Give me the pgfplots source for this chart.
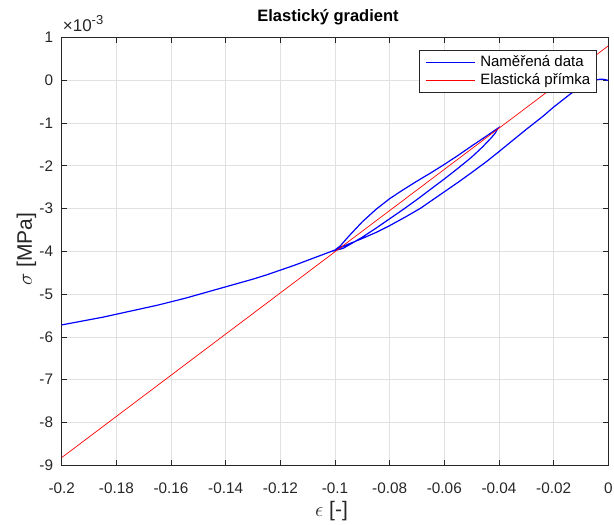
\documentclass[border=0pt]{standalone}
\usepackage{fontspec}
\setmainfont{Liberation Sans}
\usepackage{pgfplots}
\pgfplotsset{compat=1.18}
\definecolor{axc}{RGB}{38,38,38}
\definecolor{gridc}{RGB}{225,225,225}
\begin{document}
\begin{tikzpicture}
\begin{axis}[
  scale only axis,
  width=546.6pt, height=428pt,
  xmin=-0.2, xmax=0, ymin=-9, ymax=1,
  xtick={-0.2,-0.18,-0.16,-0.14,-0.12,-0.1,-0.08,-0.06,-0.04,-0.02,0},
  xticklabels={-0.2,-0.18,-0.16,-0.14,-0.12,-0.1,-0.08,-0.06,-0.04,-0.02,0},
  ytick={-9,-8,-7,-6,-5,-4,-3,-2,-1,0,1},
  yticklabels={-9,-8,-7,-6,-5,-4,-3,-2,-1,0,1},
  tick align=inside, tick pos=both,
  major tick length=5.5pt,
  grid=major,
  major grid style={gridc, line width=0.6pt},
  axis line style={axc, line width=0.7pt},
  every tick/.style={axc, line width=0.7pt},
  tick label style={font=\fontsize{15.3}{18}\selectfont, text=axc, inner sep=0pt},
  xticklabel style={anchor=base, yshift=-27.7pt},
  yticklabel style={anchor=east, xshift=-8.4pt},
  title={\textbf{Elastický gradient}},
  title style={font=\fontsize{16.5}{19}\selectfont, text=black, at={(axis description cs:0.5,1)}, anchor=base, yshift=10pt, xshift=-7pt},
  xlabel={$\epsilon$ [-]},
  ylabel={$\sigma$ [MPa]},
  xlabel style={font=\fontsize{21}{24}\selectfont, text=axc, at={(axis description cs:0.4937,-0.108)}, anchor=center},
  ylabel style={font=\fontsize{21}{24}\selectfont, text=axc, at={(axis description cs:-0.0644,0.5054)}, anchor=center},
  legend style={at={(axis description cs:1,1)}, anchor=north east, xshift=-12pt, yshift=-13pt,
    draw=axc, line width=0.6pt, fill=white, font=\fontsize{15}{18}\selectfont,
    inner xsep=5.7pt, inner ysep=5pt, row sep=3pt, column sep=5.3pt,
    nodes={inner sep=0pt, text height=11pt, text depth=3.5pt}},
  legend cell align=left,
  legend image code/.code={\draw[#1, line width=0.8pt] (0pt,0pt) -- (49pt,0pt);},
]
\addplot[blue, line width=1.2pt] coordinates {
(0.000,-0.01) (-0.001,0.01) (-0.002,0.02) (-0.003,0.02) (-0.004,0.01) (-0.005,-0.01)
(-0.0066,-0.05) (-0.008,-0.09) (-0.010,-0.16) (-0.012,-0.24) (-0.014,-0.33) (-0.016,-0.43)
(-0.018,-0.53) (-0.020,-0.63) (-0.022,-0.74) (-0.024,-0.85) (-0.027,-1.00) (-0.030,-1.15)
(-0.0323,-1.27) (-0.035,-1.41) (-0.0396,-1.65) (-0.0445,-1.90) (-0.050,-2.16) (-0.055,-2.39)
(-0.060,-2.61) (-0.065,-2.83) (-0.0686,-2.99) (-0.074,-3.19) (-0.080,-3.40) (-0.085,-3.56)
(-0.090,-3.70) (-0.095,-3.83) (-0.098,-3.91) (-0.100,-3.98)
(-0.097,-3.93) (-0.094,-3.82) (-0.090,-3.67) (-0.085,-3.46) (-0.080,-3.24) (-0.075,-3.02)
(-0.070,-2.79) (-0.065,-2.55) (-0.060,-2.31) (-0.055,-2.06) (-0.050,-1.80) (-0.046,-1.56)
(-0.043,-1.36) (-0.0415,-1.25) (-0.0403,-1.12)
(-0.045,-1.325) (-0.050,-1.54) (-0.055,-1.76) (-0.060,-1.97) (-0.065,-2.17) (-0.070,-2.36)
(-0.075,-2.56) (-0.080,-2.77) (-0.085,-3.02) (-0.090,-3.31) (-0.095,-3.65) (-0.098,-3.87)
(-0.100,-3.97)
(-0.105,-4.09) (-0.110,-4.21) (-0.115,-4.33) (-0.120,-4.44) (-0.125,-4.55) (-0.130,-4.65)
(-0.135,-4.74) (-0.140,-4.83) (-0.145,-4.92) (-0.150,-5.01) (-0.155,-5.10) (-0.160,-5.18)
(-0.165,-5.26) (-0.170,-5.33) (-0.175,-5.40) (-0.180,-5.47) (-0.185,-5.54) (-0.190,-5.60)
(-0.195,-5.66) (-0.200,-5.72)
};
\addlegendentry{Naměřená data}
\addplot[red, line width=0.7pt] coordinates {(-0.2,-8.82) (0,0.80)};
\addlegendentry{Elastická přímka}
\end{axis}
\node[anchor=base west, inner sep=0pt, text=axc] at ([shift={(1pt,5.6pt)}]current axis.north west) {\fontsize{17}{20}\selectfont ×10\raisebox{7pt}{\fontsize{13}{15}\selectfont -3}};
\pgfresetboundingbox
\path ([shift={(-61.7pt,-58.7pt)}]current axis.south west) rectangle ([shift={(5.7pt,37.3pt)}]current axis.north east);
\end{tikzpicture}
\end{document}
